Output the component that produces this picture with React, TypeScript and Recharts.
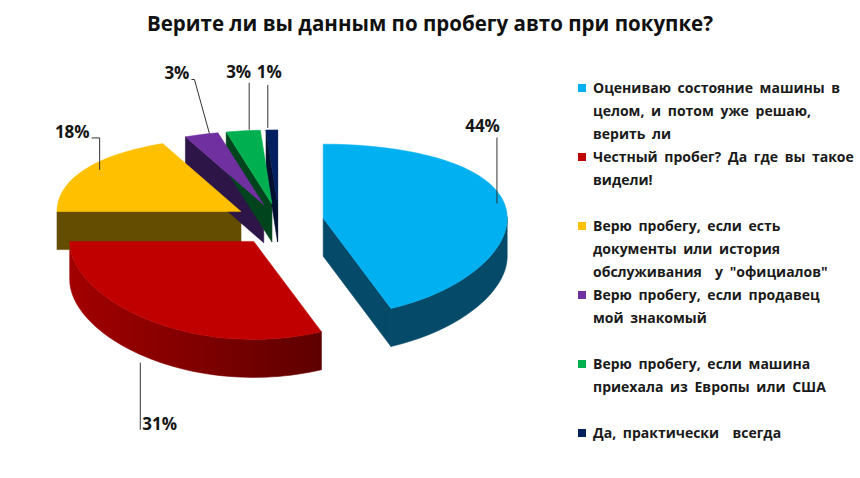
import { Legend, Pie, PieChart } from 'recharts';

const categoryLines = [
  ['Оцениваю состояние машины в', 'целом, и потом уже решаю,', 'верить ли'],
  ['Честный пробег? Да где вы такое', 'видели!'],
  ['Верю пробегу, если есть', 'документы или история', 'обслуживания  у "официалов"'],
  ['Верю пробегу, если продавец', 'мой знакомый'],
  ['Верю пробегу, если машина', 'приехала из Европы или США'],
  ['Да, практически  всегда'],
];
const categories = categoryLines.map((lines) => lines.join(' '));
const shares = [44, 31, 18, 3, 3, 1];

const data = categories.map((name, i) => ({ name, value: shares[i] }));

const topFills = ['#00B0F0', '#C00000', '#FFC000', '#7030A0', '#00B050', '#002060'];
const sideFills = ['#054A69', '#5A0000', '#654D00', '#2E1547', '#00441E', '#000F30'];
const rimDark = ['#054A69', '#340000', '#654D00', '#2E1547', '#00441E', '#000F30'];
const rimLight = ['#054A69', '#A20000', '#654D00', '#2E1547', '#00441E', '#000F30'];

const W = 860;
const H = 478;
const CX = 279;
const CY = 222;
const R = 184;
const K_MID = 0.4674;
const K_DIFF = 0.0652;
const DEPTH = 38;
const EXPLODE = 45;
const FONT = '"Open Sans", "DejaVu Sans", sans-serif';

// leader line offsets from the rim point at each slice's mid angle
const labelLayouts = [
  { base: 'top', path: [[-7, 1], [-7, -65]], text: [3, -5], anchor: 'end' },
  { base: 'bottom', path: [[-10, 4], [-10, 71]], text: [2, 0], anchor: 'start' },
  { base: 'top', path: [[14, 1], [14, -31], [6, -31]], text: [-2, 0], anchor: 'end' },
  { base: 'top', path: [[8, -1], [-7, -55], [-10, -55]], text: [-2, -1], anchor: 'end' },
  { base: 'top', path: [[6, -1], [6, -48]], text: [2, -5], anchor: 'end' },
  { base: 'top', path: [[-4, -2], [-4, -45]], text: [1.5, -7], anchor: 'middle' },
];

function project(deg: number, r: number) {
  const a = (deg * Math.PI) / 180;
  const c = Math.cos(a);
  return { x: r * Math.sin(a), y: -r * c * (K_MID - K_DIFF * c) };
}

function mix(c1: string, c2: string, t: number) {
  const part = (c: string, k: number) => parseInt(c.slice(1 + 2 * k, 3 + 2 * k), 16);
  const ch = [0, 1, 2].map((k) => Math.round(part(c1, k) + (part(c2, k) - part(c1, k)) * t));
  return `rgb(${ch.join(',')})`;
}

function shade(i: number, angle: number) {
  const t = Math.min(1, Math.max(0, (angle - 90) / 180));
  return mix(rimDark[i], rimLight[i], t);
}

type SliceProps = {
  cx: number;
  cy: number;
  outerRadius: number;
  startAngle: number;
  endAngle: number;
  percent: number;
  index: number;
};

type Pt = { a: number; x: number; y: number };

function sliceGeometry(p: SliceProps) {
  const from = 90 - p.startAngle;
  const to = 90 - p.endAngle;
  const mid = (from + to) / 2;
  const off = project(mid, EXPLODE);
  const ox = p.cx + off.x;
  const oy = p.cy + off.y;
  const steps = Math.max(2, Math.ceil((to - from) / 2));
  const rim: Pt[] = [];
  for (let i = 0; i <= steps; i++) {
    const a = from + ((to - from) * i) / steps;
    const q = project(a, p.outerRadius);
    rim.push({ a, x: ox + q.x, y: oy + q.y });
  }
  const m = project(mid, p.outerRadius);
  return { mid, apex: { a: mid, x: ox, y: oy }, rim, midPoint: { x: ox + m.x, y: oy + m.y } };
}

function renderSides(props: SliceProps) {
  const g = sliceGeometry(props);
  const i = props.index;
  const pts = [g.apex, ...g.rim];
  const faces = [];
  const band: Pt[] = [];
  for (let k = 0; k < pts.length; k++) {
    const a = pts[k];
    const b = pts[(k + 1) % pts.length];
    if (b.x - a.x >= 0) continue; // faces turned away
    const radial = k === 0 || k === pts.length - 1;
    if (radial) {
      faces.push(
        <path
          key={k}
          d={`M${a.x},${a.y}L${b.x},${b.y}L${b.x},${b.y + DEPTH}L${a.x},${a.y + DEPTH}Z`}
          fill={sideFills[i]}
          stroke={sideFills[i]}
          strokeWidth={0.6}
          strokeLinejoin="round"
        />,
      );
    } else {
      if (band.length === 0) band.push(a);
      band.push(b);
    }
  }
  let rimPath = null;
  if (band.length > 1) {
    const xs = band.map((p) => p.x);
    const left = band[band.length - 1];
    const right = band[0];
    const top = band.map((p) => `${p.x},${p.y}`);
    const bottom = [...band].reverse().map((p) => `${p.x},${p.y + DEPTH}`);
    rimPath = (
      <g>
        <defs>
          <linearGradient
            id={`rim-${i}`}
            gradientUnits="userSpaceOnUse"
            x1={Math.min(...xs)}
            x2={Math.max(...xs)}
            y1={0}
            y2={0}
          >
            <stop offset="0" stopColor={shade(i, left.a)} />
            <stop offset="1" stopColor={shade(i, right.a)} />
          </linearGradient>
        </defs>
        <polygon
          points={[...top, ...bottom].join(' ')}
          fill={`url(#rim-${i})`}
          stroke={`url(#rim-${i})`}
          strokeWidth={0.6}
        />
      </g>
    );
  }
  return (
    <g>
      {faces}
      {rimPath}
    </g>
  );
}

function renderTops(props: SliceProps) {
  const g = sliceGeometry(props);
  const i = props.index;
  const d = `M${g.apex.x},${g.apex.y}${g.rim.map((p) => `L${p.x},${p.y}`).join('')}Z`;
  const layout = labelLayouts[i];
  const bx = g.midPoint.x;
  const by = g.midPoint.y + (layout.base === 'bottom' ? DEPTH : 0);
  const line = layout.path.map(([dx, dy]) => `${bx + dx},${by + dy}`).join(' ');
  const [lx, ly] = layout.path[layout.path.length - 1];
  return (
    <g>
      <path d={d} fill={topFills[i]} stroke={topFills[i]} strokeWidth={0.5} />
      <polyline points={line} fill="none" stroke="#333" strokeWidth={1} />
      <text
        x={bx + lx + layout.text[0]}
        y={by + ly + layout.text[1]}
        textAnchor={layout.anchor}
        fontFamily={FONT}
        fontWeight={700}
        fontSize={17}
        fill="#151515"
      >
        {`${Math.round(props.percent * 100)}%`}
      </text>
    </g>
  );
}

function LegendBox() {
  return (
    <div style={{ fontFamily: FONT, fontWeight: 700, fontSize: 14, lineHeight: '23px', color: '#1a1a1a' }}>
      {categoryLines.map((lines, i) => (
        <div key={categories[i]} style={{ position: 'relative', height: 69, paddingLeft: 17 }}>
          <div
            style={{ position: 'absolute', left: 2, top: 8, width: 8, height: 8, background: topFills[i] }}
          />
          {lines.map((line) => (
            <div key={line} style={{ whiteSpace: 'pre', wordSpacing: 3 }}>
              {line}
            </div>
          ))}
        </div>
      ))}
    </div>
  );
}

export default function App() {
  return (
    <div style={{ position: 'relative', width: W, height: H, background: '#fff' }}>
      <style>{'body{margin:0}'}</style>
      <PieChart width={W} height={H} margin={{ top: 0, right: 0, bottom: 0, left: 0 }}>
        <Pie
          data={data}
          dataKey="value"
          nameKey="name"
          cx={CX}
          cy={CY}
          outerRadius={R}
          startAngle={90}
          endAngle={-270}
          fill="none"
          stroke="none"
          legendType="none"
          labelLine={false}
          label={renderSides}
          isAnimationActive={false}
        />
        <Pie
          data={data}
          dataKey="value"
          nameKey="name"
          cx={CX}
          cy={CY}
          outerRadius={R}
          startAngle={90}
          endAngle={-270}
          fill="none"
          stroke="none"
          legendType="none"
          labelLine={false}
          label={renderTops}
          isAnimationActive={false}
        />
        <Legend
          layout="vertical"
          align="right"
          verticalAlign="top"
          wrapperStyle={{ left: 576, top: 76, width: 284, height: 400 }}
          content={() => <LegendBox />}
        />
      </PieChart>
      <div
        style={{
          position: 'absolute',
          left: 0,
          top: 9,
          width: W,
          textAlign: 'center',
          fontFamily: FONT,
          fontWeight: 700,
          fontSize: 20.5,
          lineHeight: '28px',
          color: '#111',
        }}
      >
        Верите ли вы данным по пробегу авто при покупке?
      </div>
    </div>
  );
}
